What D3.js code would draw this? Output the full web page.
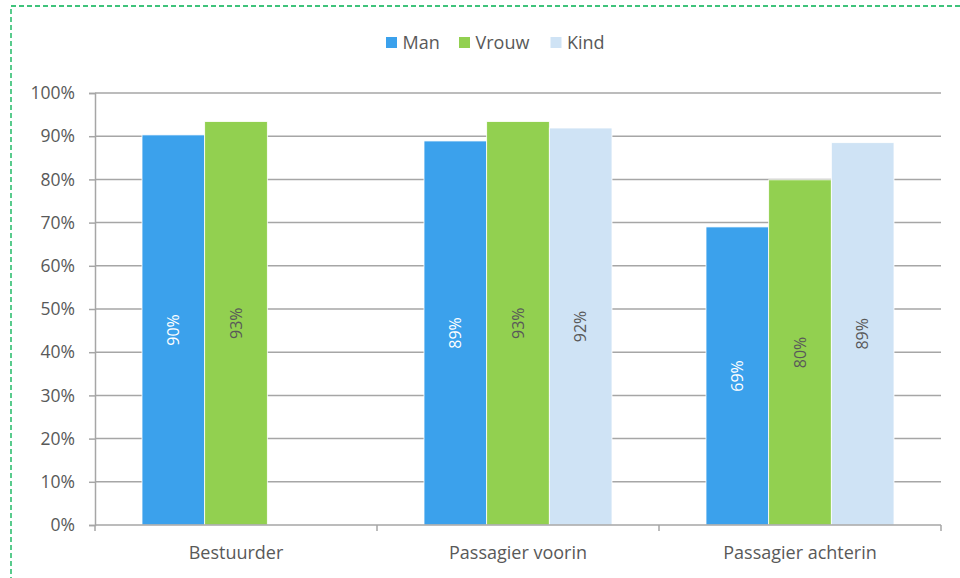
<!DOCTYPE html>
<html><head><meta charset="utf-8">
<script src="https://cdn.jsdelivr.net/npm/d3@7"></script>
<style>body{margin:0;background:#fff}svg{display:block}text{font-family:"Open Sans",sans-serif}</style>
</head><body><svg id="c" width="960" height="578"></svg>
<script>
const categories = ["Bestuurder", "Passagier voorin", "Passagier achterin"];
const seriesNames = ["Man", "Vrouw", "Kind"];
const man = [0.903, 0.889, 0.69];
const vrouw = [0.934, 0.934, 0.799];
const kind = [null, 0.919, 0.885];
const yTicks = [0,0.1,0.2,0.3,0.4,0.5,0.6,0.7,0.8,0.9,1.0];
const colors = ["#3ba1ec", "#92d050", "#cfe3f5"];
const labelColors = ["#ffffff", "#595959", "#595959"];

(function(){
const values = [man, vrouw, kind];
const svg = d3.select("#c");
const left = 95, right = 941, topY = 93, bottom = 525;

svg.append("rect").attr("x",11).attr("y",6).attr("width",1000).attr("height",700)
  .attr("fill","none").attr("stroke","#00b050").attr("stroke-width",1.3).attr("stroke-dasharray","5,3");

const x0 = d3.scaleBand().domain(categories).range([left,right]).paddingInner(0).paddingOuter(0);
const x1 = d3.scaleBand().domain(seriesNames).range([0,x0.bandwidth()]).paddingInner(0).paddingOuter(0.75);
const y = d3.scaleLinear().domain([0,1]).range([bottom,topY]);

const yAxis = d3.axisLeft(y).tickValues(yTicks).tickFormat(d3.format(".0%")).tickSize(6).tickPadding(14);
const gy = svg.append("g").attr("transform",`translate(${left},0)`).call(yAxis);
gy.select(".domain").attr("stroke","#a6a6a6").attr("stroke-width",1.5);
gy.selectAll(".tick line").attr("stroke","#a6a6a6").attr("stroke-width",1.5);
gy.selectAll(".tick text").attr("fill","#595959").attr("font-size",17.5);
svg.append("g").selectAll("line").data(yTicks.filter(d=>d>0)).join("line")
  .attr("x1",left).attr("x2",right).attr("y1",d=>y(d)).attr("y2",d=>y(d))
  .attr("stroke","#a6a6a6").attr("stroke-width",1.5);

const data = [];
categories.forEach((c,i)=>seriesNames.forEach((s,j)=>{ if(values[j][i]!=null) data.push({c,s,j,v:values[j][i]}); }));
const g = svg.append("g");
g.selectAll("rect").data(data).join("rect")
  .attr("x",d=>x0(d.c)+x1(d.s)).attr("width",x1.bandwidth())
  .attr("y",d=>y(d.v)).attr("height",d=>y(0)-y(d.v))
  .attr("fill",d=>colors[d.j]).attr("stroke","#fff").attr("stroke-width",0.8);
g.selectAll("text").data(data).join("text")
  .attr("transform",d=>`translate(${x0(d.c)+x1(d.s)+x1.bandwidth()/2},${(y(d.v)+y(0))/2}) rotate(-90)`)
  .attr("text-anchor","middle").attr("dy","0.35em")
  .attr("fill",d=>labelColors[d.j]).attr("font-size",16)
  .text(d=>Math.round(d.v*100)+"%");

const xAxis = d3.axisBottom(x0).tickSize(0).tickPadding(21);
const gx = svg.append("g").attr("transform",`translate(0,${bottom})`).call(xAxis);
gx.select(".domain").remove();
gx.selectAll(".tick text").attr("fill","#595959").attr("font-size",18);
svg.append("line").attr("x1",left).attr("x2",right).attr("y1",bottom).attr("y2",bottom).attr("stroke","#a6a6a6").attr("stroke-width",1.5);
const bounds = [left, ...categories.map(c=>x0(c)+x0.bandwidth())];
svg.append("g").selectAll("line").data(bounds).join("line")
  .attr("x1",d=>d).attr("x2",d=>d).attr("y1",bottom).attr("y2",bottom+6)
  .attr("stroke","#a6a6a6").attr("stroke-width",1.5);

const lx = [386, 459, 550.5];
const lg = svg.append("g").selectAll("g").data(seriesNames).join("g")
  .attr("transform",(d,i)=>`translate(${lx[i]},37)`);
lg.append("rect").attr("width",11).attr("height",11).attr("fill",(d,i)=>colors[i]);
lg.append("text").attr("x",16.5).attr("y",5.5).attr("dy","0.35em").attr("fill","#595959").attr("font-size",18).text(d=>d);
})();
</script></body></html>
